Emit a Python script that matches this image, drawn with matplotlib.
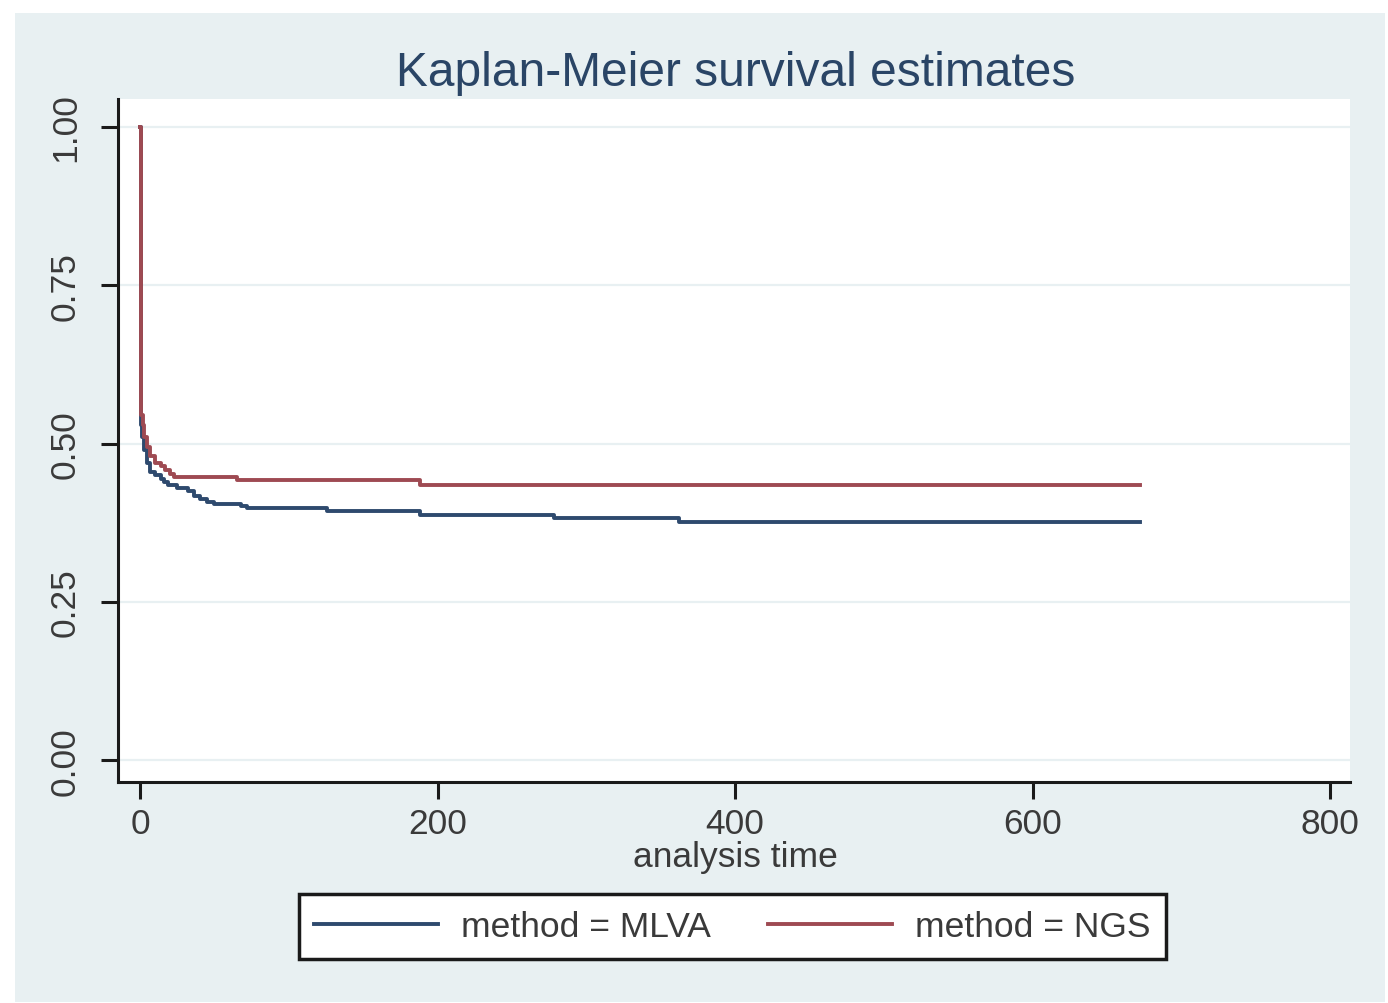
import numpy as np
import matplotlib
matplotlib.use("Agg")
import matplotlib.pyplot as plt
from matplotlib.patches import Rectangle

plt.rcParams['font.family'] = ['Liberation Sans', 'DejaVu Sans']

# Kaplan-Meier step data
t_mlva = [0, 0.5, 1, 3, 5, 7, 10, 14, 16, 19, 25, 32, 36, 40, 45, 50, 68, 72, 126, 188, 278, 362, 672]
s_mlva = [1.0, 0.53, 0.51, 0.49, 0.47, 0.455, 0.45, 0.445, 0.44, 0.434, 0.43, 0.425, 0.418, 0.413,
          0.408, 0.405, 0.402, 0.399, 0.394, 0.388, 0.383, 0.377, 0.377]

t_ngs = [0, 0.5, 2, 3, 5, 7, 10, 14, 17, 20, 23, 65, 188, 672]
s_ngs = [1.0, 0.545, 0.53, 0.51, 0.495, 0.48, 0.47, 0.465, 0.458, 0.452, 0.448, 0.442, 0.435, 0.435]

xticks = [0, 200, 400, 600, 800]
yticks = [0.0, 0.25, 0.5, 0.75, 1.0]
ylabels = ["0.00", "0.25", "0.50", "0.75", "1.00"]

bg = "#e8f0f2"
col_mlva = "#2e4a6e"
col_ngs = "#9e4a52"
txt = "#3a3a3a"

W, H = 1388, 1004
fig = plt.figure(figsize=(W / 100, H / 100), dpi=100, facecolor="white")
# light panel behind everything
panel = Rectangle((15 / W, 1 - 1003 / H), (1385 - 15) / W, (1003 - 14) / H,
                  transform=fig.transFigure, facecolor=bg, edgecolor="none", zorder=-5)
fig.add_artist(panel)

ax = fig.add_axes([118 / W, 1 - 783 / H, (1350 - 118) / W, (783 - 100) / H])
ax.set_facecolor("white")

for yv in yticks:
    ax.axhline(yv, color=bg, lw=1.6, zorder=1)

ax.step(t_mlva, s_mlva, where="post", color=col_mlva, lw=2.8, zorder=3, label="method = MLVA")
ax.step(t_ngs, s_ngs, where="post", color=col_ngs, lw=2.8, zorder=3, label="method = NGS")

ax.set_xlim(-14.8, 813.4)
ax.set_ylim(-0.034, 1.044)

ax.set_xticks(xticks)
ax.set_yticks(yticks)
ax.set_yticklabels(ylabels, rotation=90, va="center")

for s in ["top", "right"]:
    ax.spines[s].set_visible(False)
for s in ["left", "bottom"]:
    ax.spines[s].set_linewidth(2.2)
    ax.spines[s].set_color("#1a1a1a")

ax.tick_params(axis="both", length=12, width=2.2, color="#1a1a1a", labelsize=25.5, labelcolor=txt)
ax.tick_params(axis="x", pad=6)
ax.tick_params(axis="y", pad=14)

fig.text(0.530, 0.927, "Kaplan-Meier survival estimates", ha="center", va="center",
         fontsize=34.5, color="#2a4566")
fig.text(0.5295, 0.1464, "analysis time", ha="center", va="center", fontsize=25.5, color=txt)

leg = fig.legend(loc="center", bbox_to_anchor=(0.5277, 0.0762), ncol=2, fontsize=25.5,
                 handlelength=3.5, columnspacing=1.6, handletextpad=0.65, fancybox=False,
                 borderpad=0.45, labelcolor=txt)
leg.get_frame().set_edgecolor("#1a1a1a")
leg.get_frame().set_linewidth(2.5)
leg.get_frame().set_facecolor("white")
leg.get_frame().set_alpha(1)

fig.savefig("out.png", dpi=100, facecolor="white")
